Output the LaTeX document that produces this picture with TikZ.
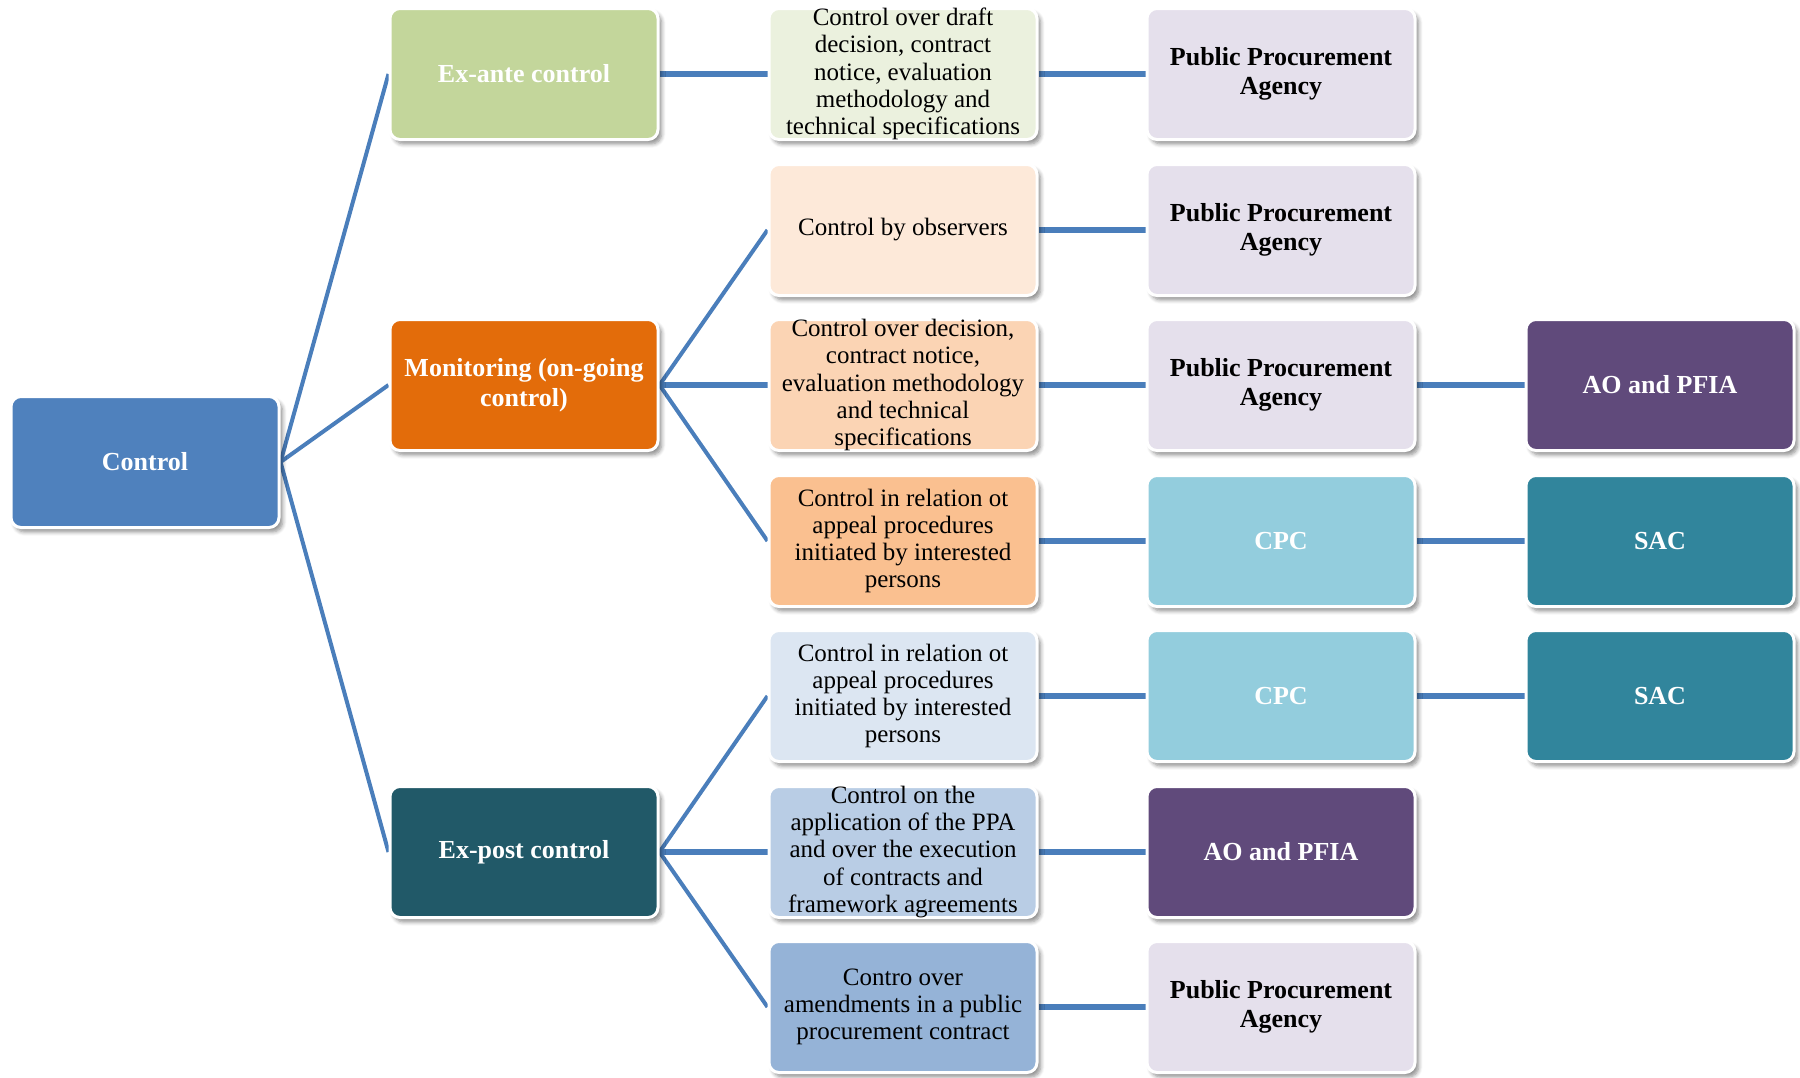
\documentclass[tikz,border=0pt]{standalone}
\usepackage{fontspec}
\setmainfont{Liberation Serif}
\usetikzlibrary{shadows.blur,backgrounds}

\definecolor{linkblue}{HTML}{4A7EBB}
\definecolor{cRoot}{HTML}{4F81BD}
\definecolor{cAnte}{HTML}{C3D69B}
\definecolor{cMon}{HTML}{E36C0A}
\definecolor{cPost}{HTML}{215968}
\definecolor{cR1}{HTML}{EBF1DE}
\definecolor{cR2}{HTML}{FDE9D9}
\definecolor{cR3}{HTML}{FBD4B4}
\definecolor{cR4}{HTML}{FAC090}
\definecolor{cR5}{HTML}{DCE6F2}
\definecolor{cR6}{HTML}{B9CDE5}
\definecolor{cR7}{HTML}{95B3D7}
\definecolor{cPPA}{HTML}{E5E0EC}
\definecolor{cCPC}{HTML}{93CDDD}
\definecolor{cSAC}{HTML}{31859C}
\definecolor{cAO}{HTML}{604A7B}

\begin{document}
\begin{tikzpicture}[x=0.5pt,y=-0.5pt,
  box/.style={rectangle, rounded corners=5pt, draw=white, line width=1.5pt,
    minimum width=134pt, minimum height=65.5pt, align=center,
    inner xsep=0pt, inner ysep=-2pt,
    blur shadow={shadow xshift=1.8pt, shadow yshift=-2.2pt,
      shadow opacity=45, shadow blur steps=6, shadow blur radius=2pt}},
  head/.style={box, font=\bfseries\fontsize{13}{15}\selectfont, text=white},
  item/.style={box, font=\fontsize{12.5}{13.6}\selectfont, text=black},
  agency/.style={box, font=\bfseries\fontsize{13}{14.5}\selectfont, text=black},
  link/.style={draw=linkblue, line width=3pt},
  branch/.style={draw=linkblue, line width=2pt}]
\useasboundingbox (0,0) rectangle (1800,1077);

% root and the three kinds of control
\node[head, fill=cRoot] (root) at (145,462) {Control};
\node[head, fill=cAnte] (ante) at (524,74) {Ex-ante control};
\node[head, fill=cMon]  (mon)  at (524,385) {Monitoring (on-going\\control)};
\node[head, fill=cPost] (post) at (524,852) {Ex-post control};

% forms of control
\node[item, fill=cR1] (r1) at (903,74)
  {Control over draft\\decision, contract\\notice, evaluation\\methodology and\\technical specifications};
\node[item, fill=cR2] (r2) at (903,230) {Control by observers};
\node[item, fill=cR3] (r3) at (903,385)
  {Control over decision,\\contract notice,\\evaluation methodology\\and technical\\specifications};
\node[item, fill=cR4] (r4) at (903,541)
  {Control in relation ot\\appeal procedures\\initiated by interested\\persons};
\node[item, fill=cR5] (r5) at (903,696)
  {Control in relation ot\\appeal procedures\\initiated by interested\\persons};
\node[item, fill=cR6] (r6) at (903,852)
  {Control on the\\application of the PPA\\and over the execution\\of contracts and\\framework agreements};
\node[item, fill=cR7] (r7) at (903,1007)
  {Contro over\\amendments in a public\\procurement contract};

% responsible bodies
\node[agency, fill=cPPA] (a1) at (1281,74) {Public Procurement\\Agency};
\node[agency, fill=cPPA] (a2) at (1281,230) {Public Procurement\\Agency};
\node[agency, fill=cPPA] (a3) at (1281,385) {Public Procurement\\Agency};
\node[head, fill=cCPC]   (a4) at (1281,541) {CPC};
\node[head, fill=cCPC]   (a5) at (1281,696) {CPC};
\node[head, fill=cAO]    (a6) at (1281,852) {AO and PFIA};
\node[agency, fill=cPPA] (a7) at (1281,1007) {Public Procurement\\Agency};

\node[head, fill=cAO]  (b3) at (1660,385) {AO and PFIA};
\node[head, fill=cSAC] (b4) at (1660,541) {SAC};
\node[head, fill=cSAC] (b5) at (1660,696) {SAC};

% connectors behind the boxes
\begin{scope}[on background layer]
  \draw[branch] (root.east) -- (ante.west);
  \draw[branch] (root.east) -- (mon.west);
  \draw[branch] (root.east) -- (post.west);

  \draw[link] (ante.east) -- (r1.west);
  \draw[branch] (mon.east) -- (r2.west);
  \draw[link] (mon.east) -- (r3.west);
  \draw[branch] (mon.east) -- (r4.west);
  \draw[branch] (post.east) -- (r5.west);
  \draw[link] (post.east) -- (r6.west);
  \draw[branch] (post.east) -- (r7.west);

  \foreach \i in {1,...,7} { \draw[link] (r\i.east) -- (a\i.west); }
  \foreach \i in {3,4,5} { \draw[link] (a\i.east) -- (b\i.west); }
\end{scope}
\end{tikzpicture}
\end{document}
